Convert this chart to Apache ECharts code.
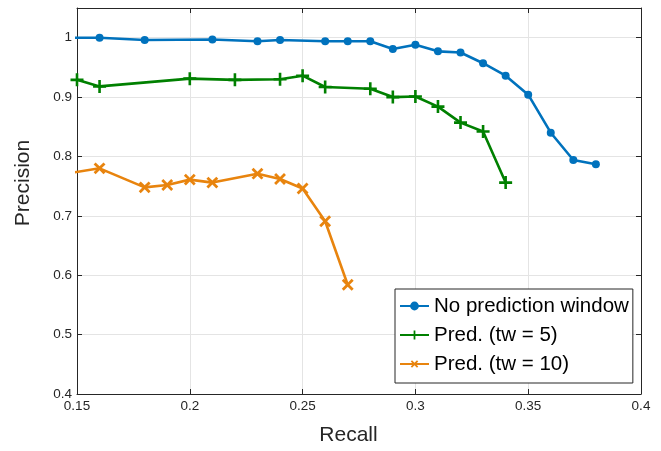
<!DOCTYPE html>
<html>
<head>
<meta charset="utf-8">
<script src="https://cdn.jsdelivr.net/npm/echarts@6/dist/echarts.min.js"></script>
<style>
  html, body { margin: 0; padding: 0; background: #fff; }
  #chart { width: 661px; height: 451px; }
</style>
</head>
<body>
<div id="chart"></div>
<script>
// series data
const recallNoPred = [0.14, 0.16, 0.18, 0.21, 0.23, 0.24, 0.26, 0.27, 0.28, 0.29, 0.30, 0.31, 0.32, 0.33, 0.34, 0.35, 0.36, 0.37, 0.38];
const precNoPred   = [1.000, 1.000, 0.996, 0.997, 0.994, 0.996, 0.994, 0.994, 0.994, 0.981, 0.988, 0.977, 0.975, 0.957, 0.936, 0.904, 0.840, 0.794, 0.787];

const recallTw5 = [0.15, 0.16, 0.20, 0.22, 0.24, 0.25, 0.26, 0.28, 0.29, 0.30, 0.31, 0.32, 0.33, 0.34];
const precTw5   = [0.929, 0.918, 0.931, 0.929, 0.930, 0.936, 0.917, 0.914, 0.900, 0.901, 0.884, 0.857, 0.842, 0.756];

const recallTw10 = [0.14, 0.16, 0.18, 0.19, 0.20, 0.21, 0.23, 0.24, 0.25, 0.26, 0.27];
const precTw10   = [0.768, 0.780, 0.748, 0.752, 0.761, 0.756, 0.771, 0.762, 0.746, 0.691, 0.584];

const seriesNames = ['No prediction window', 'Pred. (tw = 5)', 'Pred. (tw = 10)'];

const pairs = (xs, ys) => xs.map((x, i) => [x, ys[i]]);

const FONT = "'Liberation Sans', Arial, sans-serif";
const AXIS_COLOR = '#262626';
const PLUS = 'path://M4,0 H6 V4 H10 V6 H6 V10 H4 V6 H0 V4 H4 Z';

let myChart = echarts.init(document.getElementById('chart'));

const xBase = { type: 'value', min: 0.15, max: 0.4, interval: 0.05 };
const yBase = { type: 'value', min: 0.4, max: 1.05, interval: 0.1 };
const lineStyle = { color: AXIS_COLOR, width: 1 };
const tickIn = { show: true, inside: true, length: 5, lineStyle: { color: AXIS_COLOR } };

myChart.setOption({
    animation: false,
    textStyle: { fontFamily: FONT },
    grid: { left: 77, right: 20, top: 8, bottom: 57, containLabel: false },
    legend: {
        data: seriesNames,
        orient: 'vertical',
        left: 395,
        top: 289,
        itemWidth: 29,
        itemHeight: 11,
        itemGap: 5,
        padding: [5, 4, 7, 4],
        backgroundColor: '#fff',
        borderColor: AXIS_COLOR,
        borderWidth: 1,
        borderRadius: 0,
        textStyle: { fontSize: 20.5, color: '#000', fontFamily: FONT, lineHeight: 24 }
    },
    xAxis: [
        Object.assign({}, xBase, {
            position: 'bottom',
            name: 'Recall',
            nameLocation: 'middle',
            nameGap: 31,
            nameTextStyle: { fontSize: 21, color: AXIS_COLOR, fontFamily: FONT, padding: [0, 21, 0, 0] },
            axisLine: { show: true, lineStyle: lineStyle },
            axisTick: tickIn,
            axisLabel: { color: AXIS_COLOR, fontSize: 13.5, margin: 5, fontFamily: FONT },
            splitLine: { show: true, lineStyle: { color: '#e4e4e4', width: 1 } }
        }),
        Object.assign({}, xBase, {
            position: 'top',
            axisLine: { show: true, lineStyle: lineStyle },
            axisTick: tickIn,
            axisLabel: { show: false },
            splitLine: { show: false }
        })
    ],
    yAxis: [
        Object.assign({}, yBase, {
            position: 'left',
            name: 'Precision',
            nameLocation: 'middle',
            nameRotate: 90,
            nameGap: 43,
            nameTextStyle: { fontSize: 21, color: AXIS_COLOR, fontFamily: FONT, padding: [0, 0, 0, 36] },
            axisLine: { show: true, lineStyle: lineStyle },
            axisTick: tickIn,
            axisLabel: { color: AXIS_COLOR, fontSize: 13.5, margin: 5, fontFamily: FONT, showMaxLabel: false },
            splitLine: { show: true, lineStyle: { color: '#e4e4e4', width: 1 } }
        }),
        Object.assign({}, yBase, {
            position: 'right',
            axisLine: { show: true, lineStyle: lineStyle },
            axisTick: tickIn,
            axisLabel: { show: false },
            splitLine: { show: false }
        })
    ],
    series: [
        {
            name: seriesNames[0],
            type: 'line',
            clip: true,
            data: pairs(recallNoPred, precNoPred),
            symbol: 'circle',
            symbolSize: 8,
            showAllSymbol: true,
            lineStyle: { color: '#0072BD', width: 2.6 },
            itemStyle: { color: '#0072BD' }
        },
        {
            name: seriesNames[1],
            type: 'line',
            clip: true,
            data: pairs(recallTw5, precTw5),
            symbol: PLUS,
            symbolSize: 13,
            showAllSymbol: true,
            lineStyle: { color: '#008000', width: 2.6 },
            itemStyle: { color: '#008000' }
        },
        {
            name: seriesNames[2],
            type: 'line',
            clip: true,
            data: pairs(recallTw10, precTw10),
            symbol: PLUS,
            symbolRotate: 45,
            symbolSize: 14,
            showAllSymbol: true,
            lineStyle: { color: '#E8840E', width: 2.6 },
            itemStyle: { color: '#E8840E' }
        }
    ]
});
</script>
</body>
</html>
